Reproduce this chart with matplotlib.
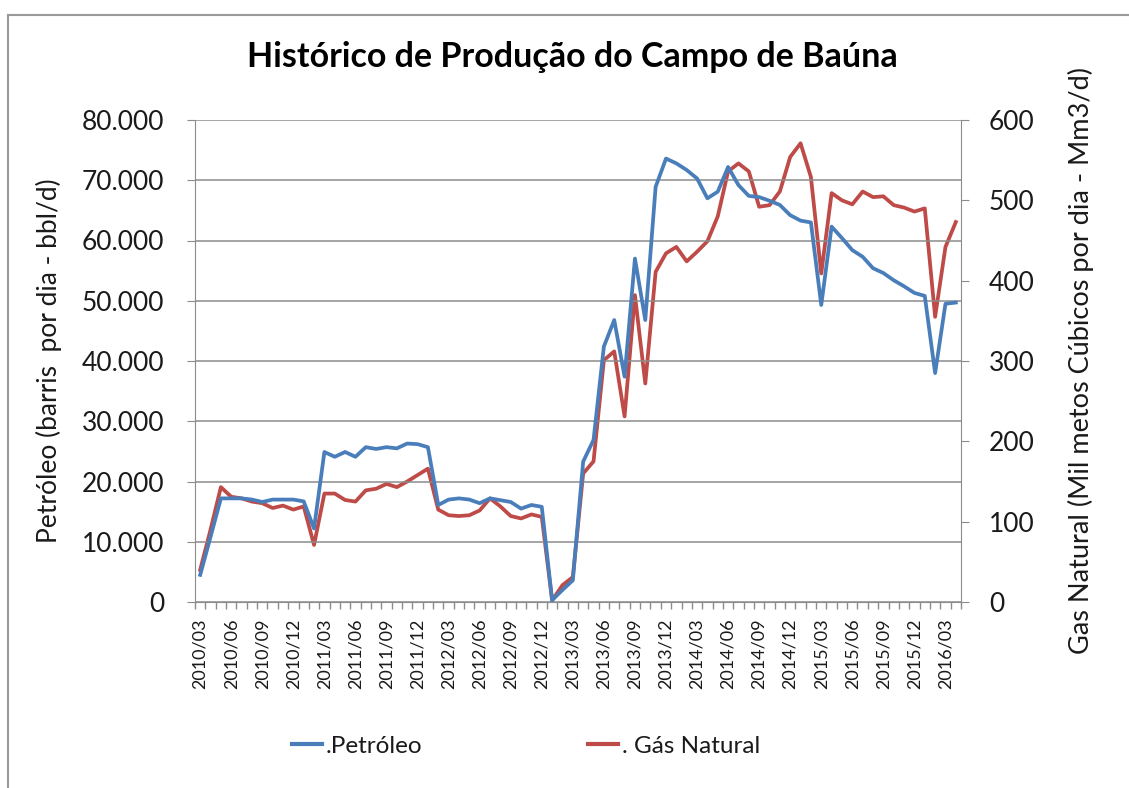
import matplotlib
matplotlib.use("Agg")
import matplotlib.pyplot as plt
from matplotlib.lines import Line2D

# ---- data ----
months = []
y, m = 2010, 3
for _ in range(74):
    months.append(f"{y}/{m:02d}")
    m += 1
    if m > 12:
        m = 1
        y += 1

petroleo = [4500, 10800, 17200, 17200, 17200, 17000, 16600, 17000, 17000, 17000,
            16700, 12200, 24900, 24100, 24900, 24100, 25700, 25400, 25700, 25500,
            26300, 26200, 25700, 16100, 17000, 17200, 17000, 16400, 17200, 16900,
            16600, 15500, 16100, 15800, 300, 2000, 3600, 23300, 26900, 42400,
            46800, 37400, 57000, 46800, 68900, 73600, 72800, 71700, 70300, 67000,
            68100, 72200, 69200, 67400, 67200, 66600, 65900, 64200, 63300, 63000,
            49300, 62300, 60400, 58400, 57300, 55400, 54600, 53400, 52400, 51300,
            50800, 38000, 49500, 49700]

gas = [40, 90, 143, 131, 129, 125, 123, 117, 120, 115,
       119, 71, 135, 135, 127, 125, 139, 141, 147, 143,
       150, 158, 166, 115, 108, 107, 108, 114, 129, 119,
       107, 104, 109, 106, 2, 21, 31, 160, 175, 301,
       312, 231, 382, 272, 411, 434, 442, 424, 436, 449,
       480, 536, 546, 536, 492, 494, 511, 554, 571, 529,
       409, 509, 500, 495, 511, 504, 505, 494, 491, 486,
       490, 355, 442, 473]

left_ticks = [0, 10000, 20000, 30000, 40000, 50000, 60000, 70000, 80000]
left_labels = ["0", "10.000", "20.000", "30.000", "40.000", "50.000", "60.000", "70.000", "80.000"]
right_ticks = [0, 100, 200, 300, 400, 500, 600]

title = "Histórico de Produção do Campo de Baúna"
ylabel_left = "Petróleo (barris  por dia - bbl/d)"
ylabel_right = "Gas Natural (Mil metos Cúbicos por dia - Mm3/d)"
legend_labels = [".Petróleo", ". Gás Natural"]

# ---- style ----
FONT = ["Lato", "DejaVu Sans"]
plt.rcParams['font.family'] = FONT
BLUE = "#4A7EBB"
RED = "#BE4B48"
GRID = "#8C8C8C"
TXT = "#1a1a1a"

W, H = 1129, 788
fig = plt.figure(figsize=(W / 100, H / 100), dpi=100)
fig.patch.set_facecolor("white")

x0, x1, yb, yt = 195, 961, 602, 120
ax = fig.add_axes([x0 / W, 1 - yb / H, (x1 - x0) / W, (yb - yt) / H])
ax2 = ax.twinx()

n = len(months)
xs = list(range(n))
ax.plot(xs, petroleo, color=BLUE, lw=2.7, solid_joinstyle="round", zorder=3)
ax2.plot(xs, gas, color=RED, lw=2.7, solid_joinstyle="round", zorder=2)
ax.set_zorder(ax2.get_zorder() + 1)
ax.patch.set_visible(False)

ax.set_xlim(-0.5, n - 0.5)
ax.set_ylim(0, 80000)
ax2.set_ylim(0, 600)

ax.set_yticks(left_ticks)
ax.set_yticklabels(left_labels)
ax2.set_yticks(right_ticks)
ax2.set_yticklabels([str(t) for t in right_ticks])

ax.yaxis.grid(True, color=GRID, lw=1.1)
ax.set_axisbelow(True)

label_pos = list(range(0, n, 3))
ax.set_xticks(label_pos)
ax.set_xticklabels([months[i] for i in label_pos], rotation=90, fontsize=13, color=TXT)
ax.tick_params(axis='x', which='major', length=0, pad=12)
ax.set_xticks([i - 0.5 for i in range(n + 1)], minor=True)
ax.tick_params(axis='x', which='minor', length=5, color=GRID, width=1)

for a in (ax, ax2):
    for s in a.spines.values():
        s.set_visible(False)
ax.spines['left'].set_visible(True)
ax.spines['left'].set_color(GRID)
ax.spines['bottom'].set_visible(True)
ax.spines['bottom'].set_color(GRID)
ax2.spines['right'].set_visible(True)
ax2.spines['right'].set_color(GRID)

ax.tick_params(axis='y', length=6, color=GRID, labelsize=19, labelcolor=TXT, pad=16)
ax2.tick_params(axis='y', length=6, color=GRID, labelsize=19, labelcolor=TXT, pad=14)

ax.set_ylabel(ylabel_left, fontsize=19, color=TXT, labelpad=14)
ax2.set_ylabel(ylabel_right, fontsize=19.5, color=TXT, labelpad=24)

fig.text(572 / W, 1 - 57 / H, title, ha='center', va='center', fontsize=24.5,
         fontweight='bold', color='black')

handles = [Line2D([0], [0], color=BLUE, lw=3), Line2D([0], [0], color=RED, lw=3)]
for h, lab, xl in zip(handles, legend_labels, [292, 588]):
    fig.legend([h], [lab], loc='center left', bbox_to_anchor=(xl / W, 1 - 746 / H),
               frameon=False, fontsize=17.5, handlelength=1.25, handletextpad=0.15,
               borderpad=0, borderaxespad=0, labelcolor=TXT)

fig.add_artist(Line2D([8 / W, 1], [1 - 15 / H, 1 - 15 / H], color="#9a9a9a", lw=1.5,
                      transform=fig.transFigure))
fig.add_artist(Line2D([8 / W, 8 / W], [0, 1 - 15 / H], color="#9a9a9a", lw=1.5,
                      transform=fig.transFigure))

fig.savefig("out.png", dpi=100, facecolor="white")
